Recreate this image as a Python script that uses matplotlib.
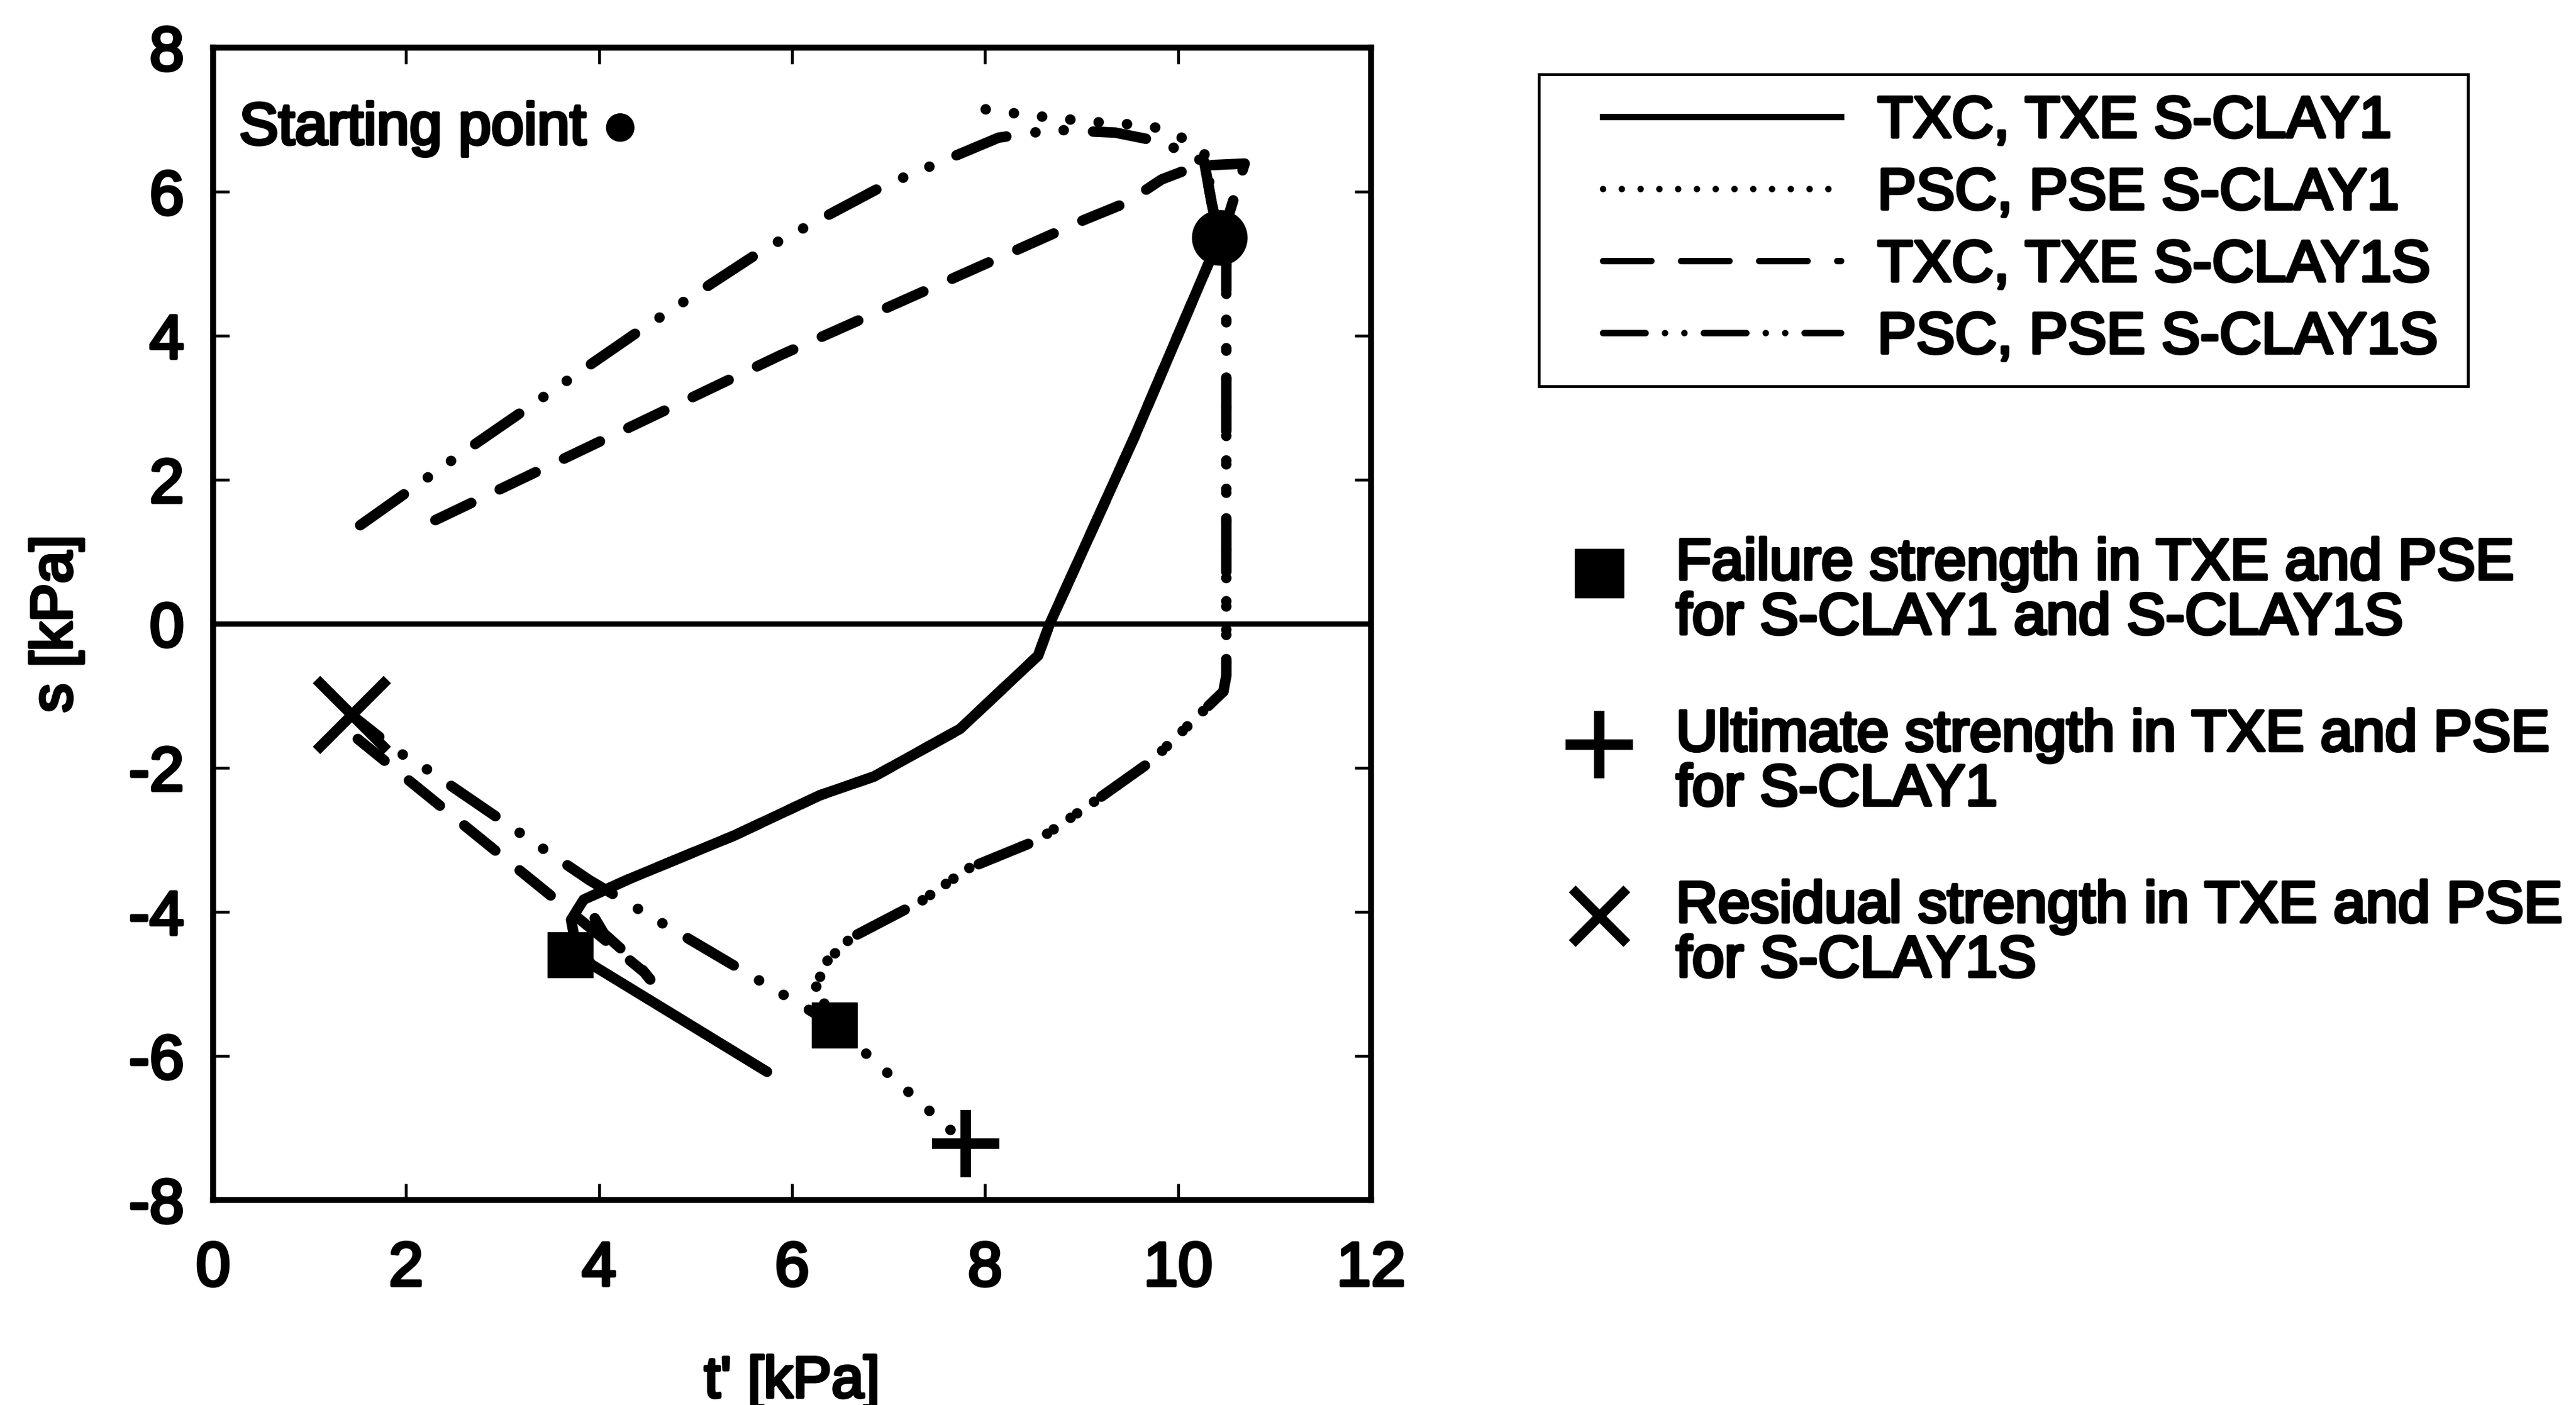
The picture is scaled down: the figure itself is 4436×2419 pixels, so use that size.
import matplotlib
matplotlib.use("Agg")
import matplotlib.pyplot as plt
import matplotlib.patheffects as pe
from matplotlib.lines import Line2D
from matplotlib.patches import Rectangle

plt.rcParams['font.family'] = ['Liberation Sans', 'DejaVu Sans']
plt.rcParams['axes.unicode_minus'] = False

# ---------------------------------------------------------------
# Stress paths in the t'-s plane  (t' [kPa], s [kPa])
# ---------------------------------------------------------------
start_t = [10.43]
start_s = [5.36]

# S-CLAY1, triaxial compression / extension (solid)
sclay1_tx_comp_t = [10.43, 10.35, 10.27]
sclay1_tx_comp_s = [5.36, 5.83, 6.42]
sclay1_tx_ext_t = [10.43, 9.55, 8.67, 8.55, 7.74, 6.85, 6.29, 5.40, 5.02, 4.30,
                   3.84, 3.71, 3.75, 3.92, 4.80, 5.74]
sclay1_tx_ext_s = [5.36, 2.60, 0.00, -0.44, -1.46, -2.12, -2.38, -2.94, -3.15, -3.55,
                   -3.83, -4.11, -4.40, -4.73, -5.45, -6.22]

# S-CLAY1, plane strain compression / extension (dotted)
sclay1_ps_comp_t = [10.43, 10.35, 10.29, 10.13, 10.01, 9.77, 9.55, 9.11, 8.46, 7.86]
sclay1_ps_comp_s = [5.36, 5.83, 6.50, 6.68, 6.77, 6.89, 6.93, 6.97, 7.06, 7.17]
sclay1_ps_ext_t = [10.43, 10.50, 10.50, 10.47, 10.33, 9.73, 9.11, 8.55, 7.82, 7.34,
                   6.61, 6.35, 6.25, 6.44, 7.80]
sclay1_ps_ext_s = [5.36, 5.00, -0.72, -0.94, -1.12, -1.90, -2.49, -3.00, -3.40, -3.85,
                   -4.36, -4.70, -5.04, -5.57, -7.22]

# S-CLAY1S, triaxial compression / extension (dashed)
sclay1s_tx_comp_t = [10.43, 10.51, 10.69, 10.20, 9.83, 9.47, 9.03, 5.88, 2.21]
sclay1s_tx_comp_s = [5.36, 5.61, 6.39, 6.36, 6.17, 5.85, 5.61, 3.73, 1.38]
sclay1s_tx_ext_t = [10.43, 9.55, 8.67, 8.55, 7.74, 6.85, 6.29, 5.40, 5.02, 4.30,
                    3.84, 4.05, 4.40, 4.53, 4.47, 3.56, 1.50]
sclay1s_tx_ext_s = [5.36, 2.60, 0.00, -0.44, -1.46, -2.12, -2.38, -2.94, -3.15, -3.55,
                    -3.83, -4.30, -4.72, -4.94, -4.84, -3.84, -1.60]

# S-CLAY1S, plane strain compression / extension (dash-dot-dot)
sclay1s_ps_comp_t = [10.43, 10.35, 10.27, 10.17, 9.83, 9.35, 8.71, 8.14, 6.93, 5.72,
                     4.43, 2.58, 1.41]
sclay1s_ps_comp_s = [5.36, 5.83, 6.42, 6.47, 6.69, 6.82, 6.86, 6.75, 6.07, 5.21,
                     4.08, 2.37, 1.26]
sclay1s_ps_ext_t = [10.43, 10.50, 10.50, 10.47, 10.33, 9.73, 9.11, 8.55, 7.82, 7.34,
                    6.61, 6.35, 6.25, 6.44, 3.90, 3.35, 2.15, 1.92, 1.44]
sclay1s_ps_ext_s = [5.36, 5.00, -0.72, -0.94, -1.12, -1.90, -2.49, -3.00, -3.40, -3.85,
                    -4.36, -4.70, -5.04, -5.57, -3.56, -3.06, -1.96, -1.78, -1.27]

# strength points in extension
failure_t = [3.70, 6.44]
failure_s = [-4.60, -5.57]
ultimate_t = [7.80]
ultimate_s = [-7.22]
residual_t = [1.44]
residual_s = [-1.27]

x_ticks = [0, 2, 4, 6, 8, 10, 12]
y_ticks = [-8, -6, -4, -2, 0, 2, 4, 6, 8]

legend_lines = ["TXC, TXE S-CLAY1", "PSC, PSE S-CLAY1",
                "TXC, TXE S-CLAY1S", "PSC, PSE S-CLAY1S"]
legend_points = ["Failure strength in TXE and PSE\nfor S-CLAY1 and S-CLAY1S",
                 "Ultimate strength in TXE and PSE\nfor S-CLAY1",
                 "Residual strength in TXE and PSE\nfor S-CLAY1S"]

# ---------------------------------------------------------------
W, H = 4436, 2419
fig = plt.figure(figsize=(W / 100, H / 100), dpi=100)
ax = fig.add_axes([367 / W, 1 - 2066 / H, (2361 - 367) / W, (2066 - 82) / H])

thick = [pe.withStroke(linewidth=4, foreground='black')]

LW = 13
sty_solid = dict(color='black', lw=LW, ls='-', solid_capstyle='round',
                 solid_joinstyle='round')
sty_dash = dict(color='black', lw=LW, ls=(0, (3.8, 3.0)), dash_capstyle='round',
                dash_joinstyle='round')
sty_dot = dict(color='black', lw=LW, ls=(0, (0.01, 2.7)), dash_capstyle='round',
               dash_joinstyle='round')
sty_dd = dict(color='black', lw=LW, ls=(0, (5.1, 2.8, 0.01, 2.7, 0.01, 2.8)),
              dash_capstyle='round', dash_joinstyle='round')

ax.axhline(0, color='black', lw=6.5, zorder=1)

ax.plot(sclay1s_ps_comp_t, sclay1s_ps_comp_s, **sty_dd, zorder=2)
ax.plot(sclay1s_ps_ext_t, sclay1s_ps_ext_s, **sty_dd, zorder=2)
ax.plot(sclay1_ps_comp_t, sclay1_ps_comp_s, **sty_dot, zorder=2)
ax.plot(sclay1_ps_ext_t, sclay1_ps_ext_s, **sty_dot, zorder=2)
ax.plot(sclay1s_tx_comp_t, sclay1s_tx_comp_s, **sty_dash, zorder=3)
ax.plot(sclay1s_tx_ext_t, sclay1s_tx_ext_s, **sty_dash, zorder=3)
ax.plot(sclay1_tx_comp_t, sclay1_tx_comp_s, **sty_solid, zorder=4)
ax.plot(sclay1_tx_ext_t, sclay1_tx_ext_s, **sty_solid, zorder=4)

ax.plot(start_t, start_s, 'o', color='black', ms=68, zorder=6)
ax.plot(failure_t, failure_s, 's', color='black', ms=56, zorder=6)
ax.plot(ultimate_t, ultimate_s, '+', color='black', ms=83, mew=13, zorder=6)
ax.plot(residual_t, residual_s, 'x', color='black', ms=88, mew=13, zorder=6)

ax.text(0.27, 6.66, "Starting point \u25cf", fontsize=73, va='baseline',
        ha='left', path_effects=thick)

ax.set_xlim(0, 12)
ax.set_ylim(-8, 8)
ax.set_xticks(x_ticks)
ax.set_yticks(y_ticks)
ax.tick_params(direction='in', length=20, width=3.5, top=True, right=True,
               labelsize=77)
ax.tick_params(axis='x', pad=50)
ax.tick_params(axis='y', pad=36)
for lab in ax.get_xticklabels() + ax.get_yticklabels():
    lab.set_path_effects(thick)
for sp in ax.spines.values():
    sp.set_linewidth(7.5)

ax.set_xlabel("t' [kPa]", fontsize=72, labelpad=70, path_effects=thick)
ax.set_ylabel("s [kPa]", fontsize=72, labelpad=56, path_effects=thick)

# legend for the stress paths, inside a plain rectangular frame
fig.add_artist(Rectangle((2650 / W, 1 - 665 / H), (4250 - 2650) / W,
                         (665 - 128) / H, transform=fig.transFigure,
                         facecolor='white', edgecolor='black', lw=3.5,
                         zorder=0))
h_lines = [
    Line2D([], [], color='black', lw=8, ls='-'),
    Line2D([], [], color='black', lw=8, ls=(0, (0.01, 2.9)), dash_capstyle='round'),
    Line2D([], [], color='black', lw=8, ls=(0, (7.5, 4.6)), dash_capstyle='round'),
    Line2D([], [], color='black', lw=8, ls=(0, (6.6, 3.0, 0.01, 3.0, 0.01, 3.0)),
           dash_capstyle='round'),
]
leg1 = fig.legend(h_lines, legend_lines, loc='upper left',
                  bbox_to_anchor=(2760 / W, 1 - 163 / H), borderaxespad=0,
                  fontsize=72, handlelength=4.1, handletextpad=0.63,
                  borderpad=0, labelspacing=0.3, frameon=False)
for t in leg1.get_texts():
    t.set_path_effects(thick)

# legend for the strength points
h_pts = [
    Line2D([], [], ls='none', marker='s', ms=60, color='black'),
    Line2D([], [], ls='none', marker='+', ms=83, mew=13, color='black'),
    Line2D([], [], ls='none', marker='x', ms=68, mew=12, color='black'),
]
leg2 = fig.legend(h_pts, legend_points, loc='upper left',
                  bbox_to_anchor=(2704 / W, 1 - 919 / H), borderaxespad=0,
                  fontsize=72, handlelength=1.0, handletextpad=0.82,
                  handleheight=2.9, borderpad=0, labelspacing=0.82,
                  numpoints=1, frameon=False)
for t in leg2.get_texts():
    t.set_linespacing(1.0)
    t.set_path_effects(thick)

fig.savefig("out.png", dpi=100)
